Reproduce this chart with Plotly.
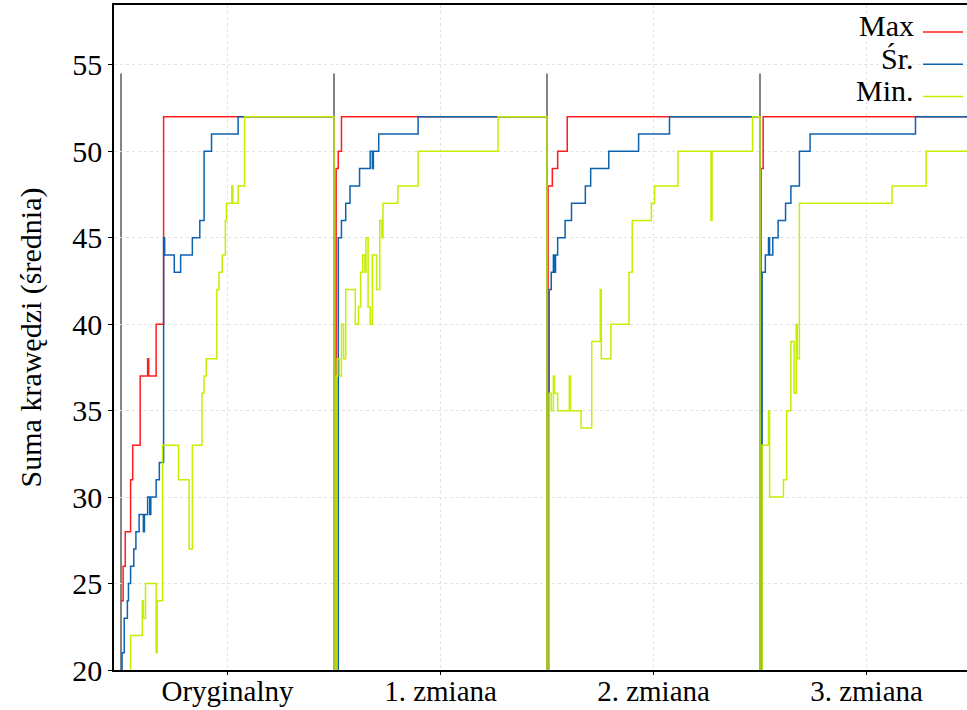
import plotly.graph_objects as go

# ---------------- data ----------------
categories = ["Oryginalny", "1. zmiana", "2. zmiana", "3. zmiana"]
GENS = 200  # generations per experiment segment

# change points (generation, value) for each segment
max_gens = [[0, 2, 4, 9, 11, 18, 25, 26, 33, 40],
            [0, 2, 4, 7],
            [0, 1, 5, 10, 19],
            [0, 1, 3]]
max_vals = [[24, 26, 28, 31, 33, 37, 38, 37, 40, 52],
            [15, 49, 50, 52],
            [15, 48, 49, 50, 52],
            [15, 49, 52]]

avg_gens = [[0, 1, 3, 6, 7, 9, 12, 14, 17, 21, 22, 25, 27, 28, 33, 36, 40, 41, 50, 56, 67, 74, 78, 85, 110],
            [0, 4, 7, 11, 15, 24, 34, 36, 37, 42, 79],
            [0, 2, 4, 6, 7, 8, 10, 17, 23, 36, 41, 58, 86, 115],
            [0, 2, 5, 8, 9, 12, 17, 24, 29, 37, 47, 146]]
avg_vals = [[15, 21, 23, 24, 25, 26, 27, 28, 29, 28, 29, 30, 29, 30, 31, 32, 45, 44, 43, 44, 45, 46, 50, 51, 52],
            [15, 45, 46, 47, 48, 49, 50, 49, 50, 51, 52],
            [15, 42, 43, 44, 43, 44, 45, 46, 47, 48, 49, 50, 51, 52],
            [15, 43, 44, 45, 44, 45, 46, 47, 48, 50, 51, 52]]

min_gens = [[0, 9, 20, 21, 23, 33, 34, 39, 54, 64, 67, 76, 78, 80, 90, 92, 95, 98, 99, 104, 105, 110, 116],
            [0, 2, 3, 5, 7, 9, 11, 20, 23, 25, 27, 29, 30, 32, 34, 36, 40, 43, 45, 46, 60, 79, 154],
            [0, 2, 4, 6, 7, 10, 21, 22, 32, 42, 50, 51, 60, 77, 80, 98, 101, 123, 154, 155, 193],
            [0, 2, 8, 9, 22, 25, 29, 32, 34, 35, 37, 124, 156]]
min_vals = [[15, 22, 24, 23, 25, 21, 24, 33, 31, 27, 33, 36, 37, 38, 42, 43, 44, 46, 47, 48, 47, 48, 52],
            [15, 37, 38, 37, 40, 38, 42, 40, 41, 43, 44, 43, 45, 41, 40, 44, 42, 46, 45, 47, 48, 50, 52],
            [15, 36, 35, 37, 36, 35, 37, 35, 34, 39, 42, 38, 40, 43, 46, 47, 48, 50, 46, 50, 52],
            [15, 33, 35, 30, 31, 35, 39, 36, 40, 38, 47, 48, 50]]

series_names = ["Max", "Śr.", "Min."]
series_colors = ["#ff1c1c", "#0d62b0", "#c3ef00"]
y_ticks = [20, 25, 30, 35, 40, 45, 50, 55]
separator_top = 54.5

# ---------------- build ----------------
def flatten(gens, vals):
    xs, ys = [], []
    for k, (g, v) in enumerate(zip(gens, vals)):
        xs += [k * GENS + gi for gi in g]
        ys += list(v)
    xs.append(len(gens) * GENS)
    ys.append(ys[-1])
    return xs, ys

W, H = 967, 710
L, R, T, B = 114, 0, 5, 40
px_per_gen = 213 / GENS
x_lo = -(121 - L) / px_per_gen
x_hi = x_lo + (W - L - R) / px_per_gen
y_lo = 20
y_hi = 20 + (H - B - T) / 17.29

FONT = "Liberation Serif"

fig = go.Figure()
all_series = [(max_gens, max_vals), (avg_gens, avg_vals), (min_gens, min_vals)]
for (g, v), name, col in zip(all_series, series_names, series_colors):
    xs, ys = flatten(g, v)
    fig.add_trace(go.Scatter(x=xs, y=ys, mode="lines", name=name,
                             line=dict(color=col, width=1.5, shape="hv"),
                             showlegend=False, hoverinfo="skip"))

# segment separators
for k in range(len(categories)):
    fig.add_shape(type="line", xref="x", yref="y", x0=k * GENS, x1=k * GENS,
                  y0=y_lo, y1=separator_top, line=dict(color="#333333", width=1.2),
                  layer="below")

# manual legend (text left of line sample)
def px_to_paper_x(px):
    return (px - L) / (W - L - R)

def px_to_paper_y(py):
    return (H - B - py) / (H - B - T)

for i, (name, col) in enumerate(zip(series_names, series_colors)):
    ly = 32 + 32.3 * i
    fig.add_annotation(x=px_to_paper_x(916), y=px_to_paper_y(ly - 6), xref="paper", yref="paper",
                       text=name, showarrow=False, xanchor="right", yanchor="middle",
                       font=dict(family=FONT, size=30, color="black"))
    fig.add_shape(type="line", xref="paper", yref="paper",
                  x0=px_to_paper_x(923), x1=px_to_paper_x(963),
                  y0=px_to_paper_y(ly), y1=px_to_paper_y(ly),
                  line=dict(color=col, width=1.5))

fig.update_layout(
    width=W, height=H,
    margin=dict(l=L, r=R, t=T, b=B),
    plot_bgcolor="white", paper_bgcolor="white",
    font=dict(family=FONT, size=30, color="black"),
)
fig.update_xaxes(
    range=[x_lo, x_hi], tickmode="array",
    tickvals=[k * GENS + GENS / 2 for k in range(len(categories))],
    ticktext=categories, tickfont=dict(family=FONT, size=29),
    ticklabelstandoff=-9,
    showgrid=True, gridcolor="#e2e2e2", griddash="dot", gridwidth=1,
    showline=True, linecolor="black", linewidth=1.5, mirror=True,
    ticks="outside", ticklen=3, tickcolor="black",
    zeroline=False, automargin=False,
)
fig.update_yaxes(
    range=[y_lo, y_hi], tickmode="array", tickvals=y_ticks,
    showgrid=True, gridcolor="#e2e2e2", griddash="dot", gridwidth=1,
    showline=True, linecolor="black", linewidth=1.5,
    ticks="outside", ticklen=4, tickcolor="black",
    zeroline=False, automargin=False,
    title=dict(text="Suma krawędzi (średnia)", standoff=22,
               font=dict(family=FONT, size=30)),
)

fig.write_html("out.html")
